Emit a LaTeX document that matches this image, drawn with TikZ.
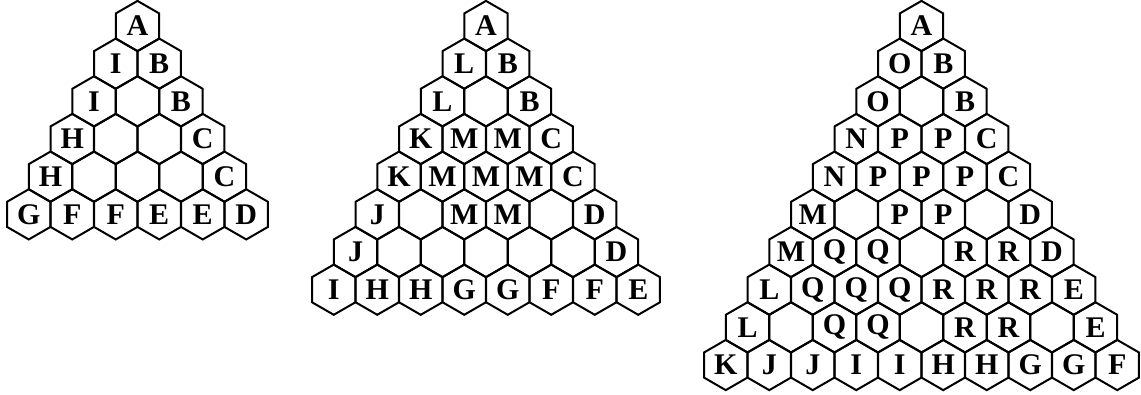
\documentclass[tikz,border=0pt]{standalone}
\usepackage{fontspec}
\setmainfont{Liberation Serif}
\usetikzlibrary{shapes.geometric}

\tikzset{
  hexcell/.style={draw, regular polygon, regular polygon sides=6, shape border rotate=30,
    minimum size=50.2pt, inner sep=0pt, line width=2pt, font=\fontsize{30}{30}\selectfont\bfseries}
}
\newcommand{\hexw}{43.5}
\newcommand{\hexh}{37.67}

\begin{document}
\begin{tikzpicture}[x=1pt,y=1pt]
	\useasboundingbox (0,0) rectangle (1141,-394);

	% first triangle, six rows
	\foreach \row [count=\r] in {{A},{I,B},{I,{},B},{H,{},{},C},{H,{},{},{},C},{G,F,F,E,E,D}}
	  \foreach \l [count=\c] in \row
	    \node[hexcell] (p-\r-\c) at ({137.5+(\c-1-(\r-1)/2)*\hexw},{-26-(\r-1)*\hexh}) {\l};

	% second triangle, eight rows
	\foreach \row [count=\r] in {{A},{L,B},{L,{},B},{K,M,M,C},{K,M,M,M,C},{J,{},M,M,{},D},
	    {J,{},{},{},{},{},D},{I,H,H,G,G,F,F,E}}
	  \foreach \l [count=\c] in \row
	    \node[hexcell] (q-\r-\c) at ({486+(\c-1-(\r-1)/2)*\hexw},{-26-(\r-1)*\hexh}) {\l};

	% third triangle, ten rows
	\foreach \row [count=\r] in {{A},{O,B},{O,{},B},{N,P,P,C},{N,P,P,P,C},{M,{},P,P,{},D},
	    {M,Q,Q,{},R,R,D},{L,Q,Q,Q,R,R,R,E},{L,{},Q,Q,{},R,R,{},E},{K,J,J,I,I,H,H,G,G,F}}
	  \foreach \l [count=\c] in \row
	    \node[hexcell] (s-\r-\c) at ({921.5+(\c-1-(\r-1)/2)*\hexw},{-26-(\r-1)*\hexh}) {\l};

\end{tikzpicture}
\end{document}
